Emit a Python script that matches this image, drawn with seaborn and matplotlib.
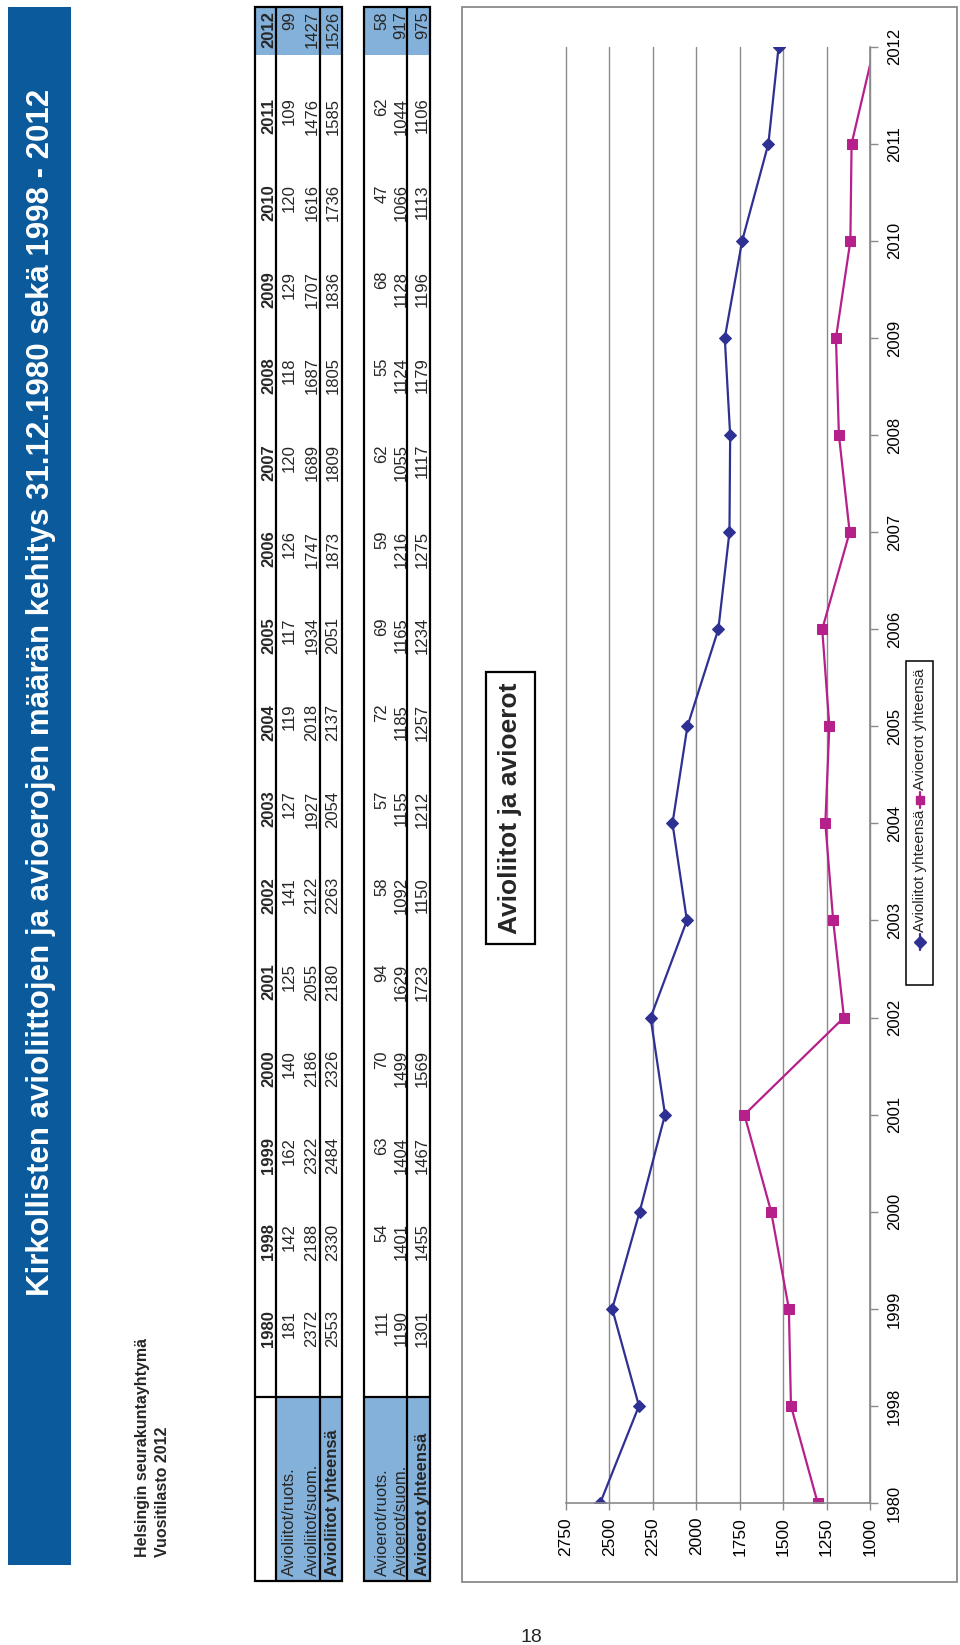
import numpy as np
import pandas as pd
import matplotlib
matplotlib.use("Agg")
import matplotlib.pyplot as plt
import seaborn as sns
from matplotlib.patches import Rectangle
from matplotlib.lines import Line2D

# ---------------- data ----------------
years = ["1980", "1998", "1999", "2000", "2001", "2002", "2003", "2004",
         "2005", "2006", "2007", "2008", "2009", "2010", "2011", "2012"]
avioliitot_ruots = [181, 142, 162, 140, 125, 141, 127, 119, 117, 126, 120, 118, 129, 120, 109, 99]
avioliitot_suom = [2372, 2188, 2322, 2186, 2055, 2122, 1927, 2018, 1934, 1747, 1689, 1687, 1707, 1616, 1476, 1427]
avioliitot_yht = [2553, 2330, 2484, 2326, 2180, 2263, 2054, 2137, 2051, 1873, 1809, 1805, 1836, 1736, 1585, 1526]
avioerot_ruots = [111, 54, 63, 70, 94, 58, 57, 72, 69, 59, 62, 55, 68, 47, 62, 58]
avioerot_suom = [1190, 1401, 1404, 1499, 1629, 1092, 1155, 1185, 1165, 1216, 1055, 1124, 1128, 1066, 1044, 917]
avioerot_yht = [1301, 1455, 1467, 1569, 1723, 1150, 1212, 1257, 1234, 1275, 1117, 1179, 1196, 1113, 1106, 975]

row_labels_1 = ["Avioliitot/ruots.", "Avioliitot/suom.", "Avioliitot yhteensä"]
row_labels_2 = ["Avioerot/ruots.", "Avioerot/suom.", "Avioerot yhteensä"]
series_names = ["Avioliitot yhteensä", "Avioerot yhteensä"]
value_ticks = [1000, 1250, 1500, 1750, 2000, 2250, 2500, 2750]

title = "Kirkollisten avioliittojen ja avioerojen määrän kehitys 31.12.1980 sekä 1998 - 2012"
org_line = "Helsingin seurakuntayhtymä"
stat_line = "Vuositilasto 2012"
chart_title = "Avioliitot ja avioerot"
page_no = "18"

# ---------------- style ----------------
sns.set_theme(style="white")
plt.rcParams["font.family"] = ["Liberation Sans", "DejaVu Sans"]

BLUE_BANNER = "#0b5a9b"
LIGHT_BLUE = "#84b1da"
NAVY = "#2e3192"
MAGENTA = "#b5208a"
GRAY = "#8a8a8a"

W, H = 960, 1645
fig = plt.figure(figsize=(W / 100, H / 100), dpi=100)
page = fig.add_axes([0, 0, 1, 1])
page.set_xlim(0, W)
page.set_ylim(H, 0)
page.axis("off")


def rtext(x, y, s, ha="left", va="baseline", **kw):
    page.text(x, y, s, rotation=90, rotation_mode="anchor", ha=ha, va=va, **kw)


# ---------------- banner ----------------
page.add_patch(Rectangle((8, 7), 63, 1558, facecolor=BLUE_BANNER, edgecolor="none"))
rtext(41, 1296, title, ha="left", va="center", color="white", fontsize=22.5, fontweight="bold")

rtext(147, 1557, org_line, fontsize=11.5, fontweight="bold")
rtext(167, 1557, stat_line, fontsize=11.5, fontweight="bold")

# ---------------- tables ----------------
top, bottom = 7, 1581
label_sep = 1396.7
col_step = 86.6


def col_end(i):
    return 11 + (len(years) - 1 - i) * col_step


def draw_table(x0, x1, row_bounds, header):
    fill_x0 = row_bounds[0] if header else x0
    page.add_patch(Rectangle((fill_x0, label_sep), x1 - fill_x0, bottom - label_sep,
                             facecolor=LIGHT_BLUE, edgecolor="none"))
    page.add_patch(Rectangle((x0, top), x1 - x0, 48, facecolor=LIGHT_BLUE, edgecolor="none"))
    lw = 1.6
    page.add_patch(Rectangle((x0, top), x1 - x0, bottom - top, facecolor="none",
                             edgecolor="black", lw=lw))
    for xb in row_bounds:
        page.plot([xb, xb], [top, bottom], color="black", lw=lw)
    page.plot([x0, x1], [label_sep, label_sep], color="black", lw=lw)


# table 1
draw_table(255, 342, [276, 320], True)
t1_base = [273.5, 294, 316.5, 337.5]
for i, yr in enumerate(years):
    rtext(t1_base[0], col_end(i), yr, ha="right", fontsize=12, fontweight="bold")
for r, vals in enumerate([avioliitot_ruots, avioliitot_suom, avioliitot_yht]):
    for i, v in enumerate(vals):
        rtext(t1_base[r + 1], col_end(i), str(v), ha="right", fontsize=12)
    rtext(t1_base[r + 1], bottom - 5, row_labels_1[r], ha="left", fontsize=12,
          fontweight="bold" if r == 2 else "normal")

# table 2
draw_table(364, 430, [407.3], False)
t2_base = [386.5, 405.5, 427]
for r, vals in enumerate([avioerot_ruots, avioerot_suom, avioerot_yht]):
    for i, v in enumerate(vals):
        rtext(t2_base[r], col_end(i), str(v), ha="right", fontsize=12)
    rtext(t2_base[r], bottom - 5, row_labels_2[r], ha="left", fontsize=12,
          fontweight="bold" if r == 2 else "normal")

# ---------------- chart area ----------------
page.add_patch(Rectangle((462, 7), 957 - 462, 1582 - 7, facecolor="white",
                         edgecolor=GRAY, lw=1.3))

px0, px1, py_top, py_bot = 566, 870, 46.7, 1503
ax = fig.add_axes([px0 / W, 1 - py_bot / H, (px1 - px0) / W, (py_bot - py_top) / H])
ax.set_facecolor("none")

df = pd.DataFrame({
    "pos": list(range(len(years))) * 2,
    "value": avioliitot_yht + avioerot_yht,
    "series": [series_names[0]] * len(years) + [series_names[1]] * len(years),
})
sns.lineplot(data=df, x="value", y="pos", hue="series", style="series",
             palette=[NAVY, MAGENTA], markers={series_names[0]: "D", series_names[1]: "s"},
             dashes=False, sort=False, estimator=None, legend=False, ax=ax,
             linewidth=1.6, markersize=6.5)
for ln in ax.lines:
    ln.set_markeredgecolor(ln.get_color())
    xd = np.asarray(ln.get_xdata(), dtype=float)
    ln.set_markevery([k for k, v in enumerate(xd) if v >= min(value_ticks)])

ax.set_xlim(max(value_ticks), min(value_ticks))
ax.set_ylim(0, len(years) - 1)
ax.set_xticks(value_ticks)
ax.set_xticklabels([str(v) for v in value_ticks])
ax.set_yticks(range(len(years)))
ax.set_yticklabels(years)
ax.yaxis.tick_right()
ax.set_xlabel("")
ax.set_ylabel("")
ax.tick_params(axis="x", bottom=True, direction="out", length=5, width=1, color=GRAY,
               pad=5, labelsize=12.5, labelrotation=90, labelcolor="black")
ax.tick_params(axis="y", right=True, left=False, direction="out", length=6, width=1,
               color=GRAY, pad=6, labelsize=12, labelrotation=90, labelcolor="black")
for lbl in ax.get_yticklabels():
    lbl.set_va("center")
    lbl.set_ha("left")
ax.grid(axis="x", color=GRAY, lw=1)
ax.grid(axis="y", visible=False)
for gl in ax.get_xgridlines():
    gl.set_clip_on(False)
for side in ["left", "top"]:
    ax.spines[side].set_visible(False)
for side in ["bottom", "right"]:
    ax.spines[side].set_visible(True)
    ax.spines[side].set_color(GRAY)
    ax.spines[side].set_linewidth(1.2)

# chart title box
page.add_patch(Rectangle((486, 672), 49, 272, facecolor="white", edgecolor="black", lw=1.6))
page.text(510.5, 808, chart_title, rotation=90, ha="center", va="center",
          fontsize=19, fontweight="bold")

# legend (rotated)
page.add_patch(Rectangle((906, 661), 27, 324, facecolor="white", edgecolor="black", lw=1.1))
page.add_line(Line2D([920, 920], [934, 950], color=NAVY, lw=1.6))
page.plot([920], [942], marker="D", color=NAVY, markersize=6)
rtext(920, 932, series_names[0], ha="left", va="center", fontsize=11)
page.add_line(Line2D([920, 920], [792, 808], color=MAGENTA, lw=1.6))
page.plot([920], [800], marker="s", color=MAGENTA, markersize=6)
rtext(920, 790, series_names[1], ha="left", va="center", fontsize=11)

page.text(531, 1637, page_no, ha="center", va="center", fontsize=14)

fig.savefig("out.png", dpi=100)
